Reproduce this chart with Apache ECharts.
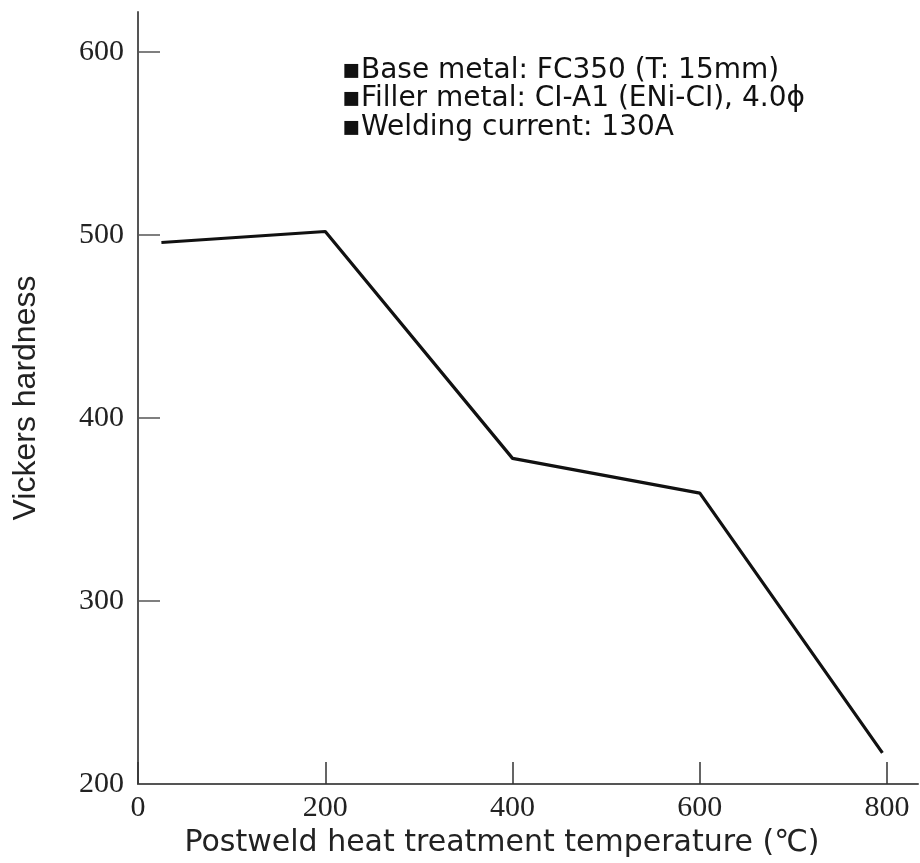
<!DOCTYPE html>
<html>
<head>
<meta charset="utf-8">
<script src="https://cdn.jsdelivr.net/npm/echarts@6/dist/echarts.min.js"></script>
<style>
html,body{margin:0;padding:0;background:#fff;}
#chart{width:920px;height:863px;}
</style>
</head>
<body>
<div id="chart"></div>
<script>
// Data
var temperatures = [25, 200, 400, 600, 795];
var hardness = [496, 502, 378, 359, 217];
var xTicks = [0, 200, 400, 600, 800];
var yTicks = [200, 300, 400, 500, 600];
var notes = [
  '\u25AABase metal: FC350 (T: 15mm)',
  '\u25AAFiller metal: CI-A1 (ENi-CI), 4.0\u03D5',
  '\u25AAWelding current: 130A'
];
var xTitle = 'Postweld heat treatment temperature (\u2103)';
var yTitle = 'Vickers hardness';

var points = temperatures.map(function (t, i) { return [t, hardness[i]]; });

var chart = echarts.init(document.getElementById('chart'));
var axisColor = '#555';
chart.setOption({
  backgroundColor: '#fff',
  animation: false,
  grid: { left: 138, right: 2, top: 12, bottom: 79, containLabel: false },
  xAxis: {
    type: 'value', min: 0, max: 833,
    axisLine: { show: true, onZero: false, lineStyle: { color: axisColor, width: 2 } },
    axisTick: { show: true, inside: true, length: 22, customValues: xTicks, lineStyle: { color: '#333', width: 1.5 } },
    axisLabel: { customValues: xTicks, margin: 9, fontFamily: 'Liberation Serif', fontSize: 30, color: '#222' },
    splitLine: { show: false },
    name: xTitle, nameLocation: 'middle', nameGap: 43,
    nameTextStyle: { fontFamily: 'DejaVu Sans', fontSize: 30, color: '#222', padding: [0, 52, 0, 0] }
  },
  yAxis: {
    type: 'value', min: 200, max: 622,
    axisLine: { show: true, onZero: false, lineStyle: { color: axisColor, width: 2 } },
    axisTick: { show: true, inside: true, length: 22, customValues: yTicks, lineStyle: { color: '#555', width: 1.5 } },
    axisLabel: { customValues: yTicks, margin: 14, fontFamily: 'Liberation Serif', fontSize: 30, color: '#222' },
    splitLine: { show: false },
    name: yTitle, nameLocation: 'middle', nameGap: 96, nameRotate: 90,
    nameTextStyle: { fontFamily: 'Liberation Sans', fontSize: 32, color: '#222' }
  },
  series: [{
    type: 'line',
    data: points,
    showSymbol: false,
    lineStyle: { color: '#111', width: 3.2 }
  }],
  graphic: [{
    type: 'text', left: 342, top: 56,
    style: {
      text: notes.join('\n'),
      font: '28px "DejaVu Sans"',
      lineHeight: 28.5,
      fill: '#111'
    }
  }]
});
</script>
</body>
</html>
